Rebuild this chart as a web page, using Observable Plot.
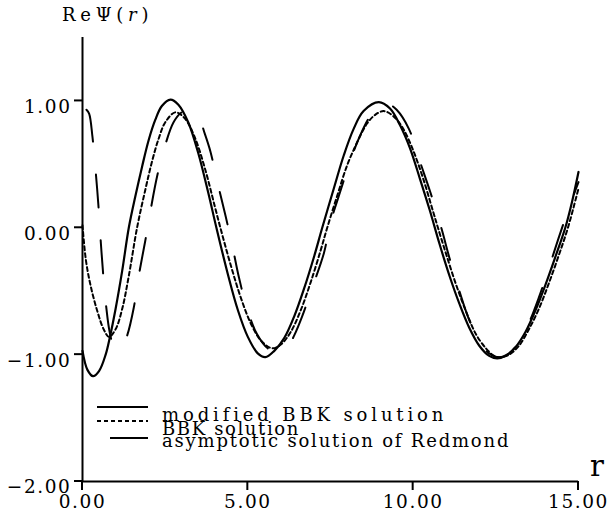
<!DOCTYPE html>
<html><head><meta charset="utf-8">
<script src="https://cdn.jsdelivr.net/npm/d3@7"></script>
<script src="https://cdn.jsdelivr.net/npm/@observablehq/plot@0.6"></script>
<style>
body{margin:0;background:#fff;}
#chart svg text{letter-spacing:1.6px;}
</style></head><body><div id="chart"></div>
<script>
// tick values
const xTicks = [0, 5, 10, 15];
const yTicks = [-2, -1, 0, 1];
const seriesNames = ["modified BBK solution", "BBK solution", "asymptotic solution of Redmond"];

// modified BBK solution (solid)
const modR = [0, 0.15, 0.32, 0.5, 0.7, 0.83, 1.0, 1.2, 1.4, 1.6, 1.8, 2.0, 2.2, 2.4, 2.66, 2.9, 3.2, 3.5, 3.8, 4.05, 4.4, 4.7, 5.0, 5.3, 5.53, 5.8, 6.1, 6.4, 6.7, 7.0, 7.25, 7.6, 7.9, 8.2, 8.5, 8.96, 9.3, 9.6, 9.9, 10.2, 10.5, 10.8, 11.1, 11.4, 11.7, 12.0, 12.3, 12.54, 12.8, 13.1, 13.4, 13.7, 14.0, 14.3, 14.6, 14.8, 15.0];
const modV = [-0.97, -1.12, -1.17, -1.13, -1.0, -0.86, -0.64, -0.34, 0.0, 0.25, 0.48, 0.69, 0.85, 0.96, 1.01, 0.97, 0.83, 0.59, 0.28, 0.0, -0.37, -0.65, -0.86, -0.99, -1.02, -0.97, -0.87, -0.70, -0.48, -0.23, 0.0, 0.31, 0.57, 0.78, 0.92, 0.99, 0.94, 0.81, 0.63, 0.39, 0.14, -0.13, -0.38, -0.60, -0.79, -0.93, -1.01, -1.03, -1.01, -0.94, -0.82, -0.65, -0.45, -0.23, 0.0, 0.2, 0.44];

// BBK solution (short dashes)
const bbkR = [0, 0.1, 0.24, 0.44, 0.64, 0.8, 1.0, 1.2, 1.4, 1.65, 1.9, 2.1, 2.3, 2.5, 2.81, 3.1, 3.4, 3.7, 4.0, 4.17, 4.5, 4.8, 5.1, 5.4, 5.74, 6.0, 6.3, 6.6, 6.9, 7.2, 7.4, 7.7, 8.0, 8.3, 8.6, 8.85, 9.11, 9.4, 9.7, 10.0, 10.3, 10.6, 10.75, 11.0, 11.3, 11.6, 11.9, 12.2, 12.45, 12.64, 12.9, 13.2, 13.5, 13.8, 14.1, 14.4, 14.68, 15.0];
const bbkV = [0.02, -0.25, -0.45, -0.65, -0.8, -0.86, -0.80, -0.64, -0.38, 0.0, 0.30, 0.52, 0.70, 0.83, 0.91, 0.86, 0.71, 0.47, 0.17, 0.0, -0.31, -0.56, -0.76, -0.89, -0.95, -0.92, -0.82, -0.65, -0.43, -0.18, 0.0, 0.25, 0.49, 0.67, 0.82, 0.89, 0.92, 0.88, 0.78, 0.61, 0.39, 0.13, 0.0, -0.21, -0.45, -0.66, -0.84, -0.95, -1.01, -1.02, -1.0, -0.93, -0.80, -0.64, -0.44, -0.22, 0.0, 0.31];

// asymptotic solution of Redmond (long dashes)
const redR = [0.12, 0.2, 0.3, 0.4, 0.48, 0.55, 0.63, 0.72, 0.82, 0.95, 1.08, 1.2, 1.35, 1.55, 1.7, 1.9, 2.06, 2.26, 2.5, 2.75, 3.0, 3.25, 3.5, 3.7, 3.87, 4.07, 4.32, 4.53, 4.73, 4.98, 5.28, 5.6, 5.9, 6.19, 6.4, 6.64, 6.95, 7.3, 7.5, 7.8, 8.1, 8.4, 8.7, 9.0, 9.21, 9.5, 9.87, 10.22, 10.52, 10.85, 11.1, 11.4, 11.7, 12.0, 12.3, 12.6, 12.9, 13.2, 13.5, 13.8, 14.1, 14.4, 14.7, 15.0];
const redV = [0.93, 0.9, 0.72, 0.44, 0.18, -0.1, -0.38, -0.63, -0.82, -0.94, -0.97, -0.94, -0.85, -0.63, -0.38, -0.1, 0.14, 0.41, 0.65, 0.83, 0.91, 0.93, 0.88, 0.74, 0.6, 0.37, 0.1, -0.14, -0.39, -0.64, -0.84, -0.95, -0.98, -0.95, -0.85, -0.7, -0.47, -0.2, 0.04, 0.29, 0.53, 0.73, 0.88, 0.96, 0.98, 0.93, 0.78, 0.51, 0.28, 0.0, -0.24, -0.5, -0.73, -0.89, -0.99, -1.02, -0.99, -0.9, -0.75, -0.55, -0.32, -0.08, 0.15, 0.36];

const mk = (R, V, s) => R.map((r, i) => ({r, v: V[i], s}));
const modData = mk(modR, modV, seriesNames[0]);
const bbkData = mk(bbkR, bbkV, seriesNames[1]);
const redData = mk(redR, redV, seriesNames[2]);

const fmt = d => d3.format(".2f")(d).replace("-", "\u2212");
const FONT = "DejaVu Serif";

const plot = Plot.plot({
  width: 612, height: 523,
  marginLeft: 82, marginRight: 34, marginTop: 37, marginBottom: 42,
  style: {fontFamily: FONT, fontSize: "18.5px", background: "#fff", color: "#000"},
  x: {domain: [0, 15], axis: null},
  y: {domain: [-2, 1.5], axis: null},
  marks: [
    Plot.line(modData, {x: "r", y: "v", curve: "catmull-rom", stroke: "#000", strokeWidth: 2.2}),
    Plot.line(bbkData, {x: "r", y: "v", curve: "catmull-rom", stroke: "#000", strokeWidth: 2, strokeDasharray: "4,3"}),
    Plot.line(redData, {x: "r", y: "v", curve: "catmull-rom", stroke: "#000", strokeWidth: 2, strokeDasharray: "33,33"}),
    Plot.ruleX([0], {stroke: "#000", strokeWidth: 2}),
    Plot.ruleY([-2], {stroke: "#000", strokeWidth: 2}),
    Plot.text(yTicks, {x: () => 0, y: d => d, text: fmt, textAnchor: "end", dx: -11, dy: 6, fill: "#000"}),
    Plot.text(xTicks, {x: d => d, y: () => -2, text: fmt, dy: 21, fill: "#000"})
  ]
});
document.getElementById("chart").appendChild(plot);

// ticks, title, axis label and legend, positioned through the plot's scales
const svgSel = d3.select(plot);
const xs = plot.scale("x"), ys = plot.scale("y");
const fLeft = xs.range[0], fRight = xs.range[1], fTop = ys.range[1], fBottom = ys.range[0];

const tickG = svgSel.append("g").attr("stroke", "#000").attr("stroke-width", 2);
yTicks.forEach(t => {
  const py = ys.apply(t);
  tickG.append("line").attr("x1", fLeft - 8).attr("x2", fLeft).attr("y1", py).attr("y2", py);
});
xTicks.forEach(t => {
  const px = xs.apply(t);
  tickG.append("line").attr("x1", px).attr("x2", px).attr("y1", fBottom).attr("y2", fBottom + 9);
});

const title = svgSel.append("text")
  .attr("x", fLeft - 20).attr("y", fTop - 16)
  .attr("text-anchor", "start")
  .attr("font-family", FONT).attr("font-size", 18).attr("fill", "#000")
  .attr("textLength", 88).attr("lengthAdjust", "spacing");
title.append("tspan").text("Re\u03A8(");
title.append("tspan").attr("font-style", "italic").text("r");
title.append("tspan").text(")");

svgSel.append("text")
  .attr("x", fRight + 12).attr("y", fBottom - 5)
  .attr("text-anchor", "start")
  .attr("font-family", FONT).attr("font-size", 29).attr("fill", "#000")
  .style("letter-spacing", "0px")
  .text("r");

const legendDash = [null, "4,3", null];
const legendX1 = [fLeft + 15, fLeft + 15, fLeft + 28];
const legendTextLen = [283, 138, 348];
const legendLineY = [fBottom - 74, fBottom - 60, fBottom - 43];
const legendTextY = [fBottom - 60, fBottom - 46, fBottom - 34];
seriesNames.forEach((name, i) => {
  const ln = svgSel.append("line")
    .attr("x1", legendX1[i]).attr("x2", fLeft + 66)
    .attr("y1", legendLineY[i]).attr("y2", legendLineY[i])
    .attr("stroke", "#000").attr("stroke-width", 2);
  if (legendDash[i]) ln.attr("stroke-dasharray", legendDash[i]);
  svgSel.append("text")
    .attr("x", fLeft + 80).attr("y", legendTextY[i])
    .attr("text-anchor", "start")
    .attr("font-family", FONT).attr("font-size", 18).attr("fill", "#000")
    .attr("textLength", legendTextLen[i]).attr("lengthAdjust", "spacing")
    .text(name);
});
</script></body></html>
